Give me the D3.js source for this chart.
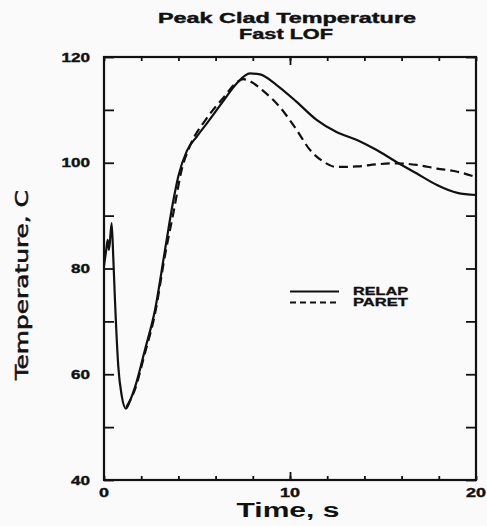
<!DOCTYPE html>
<html>
<head>
<meta charset="utf-8">
<script src="https://cdn.jsdelivr.net/npm/d3@7"></script>
<style>
  html, body { margin: 0; padding: 0; background: #fafafa; }
  svg { display: block; }
  text { font-family: "Liberation Sans", Arial, sans-serif; font-weight: bold; fill: #111; }
</style>
</head>
<body>
<div id="chart"></div>
<script>
// Datos (tiempo en s, temperatura en C)
const relapTime = [0, 0.12, 0.2, 0.27, 0.41, 0.5, 0.59, 0.77, 0.95, 1.18, 1.4, 1.67, 2.2, 2.74, 3.28, 3.73, 4.0, 4.45, 5.0, 5.52, 6.42, 7.13, 7.85, 8.39, 9.28, 10.36, 11.43, 12.5, 13.6, 14.66, 15.7, 16.8, 17.9, 19.0, 20];
const relapTemp = [80.5, 83.5, 85.4, 83.5, 88.6, 82, 74, 61.4, 56, 53.5, 55, 57.6, 64.6, 72.1, 83.5, 92.9, 97.5, 102.2, 105, 107.4, 111.7, 115, 116.9, 116.7, 114.7, 111.5, 108.1, 105.8, 104.3, 102.4, 100.2, 98, 95.8, 94.3, 93.9];

const paretTime = [1.2, 1.67, 2.2, 2.74, 3.28, 3.73, 4.2, 4.6, 5.52, 6.42, 7.13, 7.5, 7.9, 8.56, 9.46, 10.36, 11.08, 11.8, 12.5, 13.6, 14.66, 15.7, 16.8, 17.9, 19.0, 20];
const paretTemp = [53.8, 57.2, 64, 71.4, 82.5, 90.5, 99, 103, 108.4, 112.3, 115.2, 115.8, 115.3, 113.6, 110.5, 106.2, 102.4, 100.2, 99.2, 99.3, 99.7, 99.9, 99.6, 98.9, 98.3, 97.3];

const xTickLabels = [0, 10, 20];
const yTickLabels = [40, 60, 80, 100, 120];
const seriesNames = ['RELAP', 'PARET'];

const W = 487, H = 526;
const margin = { top: 57, right: 11, bottom: 46, left: 104 };
const width = W - margin.left - margin.right;
const height = H - margin.top - margin.bottom;

const svg = d3.select('#chart').append('svg')
    .attr('width', W)
    .attr('height', H);

const g = svg.append('g')
    .attr('transform', `translate(${margin.left},${margin.top})`);

const x = d3.scaleLinear().domain([0, 20]).range([0, width]);
const y = d3.scaleLinear().domain([40, 120]).range([height, 0]);

// Ticks interiores
const yMinor = d3.range(40, 121, 10);
const xMinor = d3.range(0, 21, 2);

g.append('g').call(d3.axisLeft(y).tickValues(yMinor).tickSize(-10).tickFormat(''))
    .call(s => s.select('.domain').remove());
g.append('g').attr('transform', `translate(${width},0)`)
    .call(d3.axisRight(y).tickValues(yMinor).tickSize(-10).tickFormat(''))
    .call(s => s.select('.domain').remove());
g.append('g').attr('transform', `translate(0,${height})`)
    .call(d3.axisBottom(x).tickValues(xMinor).tickSize(-4).tickFormat(''))
    .call(s => s.select('.domain').remove());
g.append('g')
    .call(d3.axisTop(x).tickValues(xMinor).tickSize(-4).tickFormat(''))
    .call(s => s.select('.domain').remove());
g.append('g').attr('transform', `translate(0,${height})`)
    .call(d3.axisBottom(x).tickValues([10]).tickSize(-8).tickFormat(''))
    .call(s => s.select('.domain').remove());
g.append('g')
    .call(d3.axisTop(x).tickValues([10]).tickSize(-8).tickFormat(''))
    .call(s => s.select('.domain').remove());
g.selectAll('.tick line').attr('stroke', '#111').attr('stroke-width', 1.8);

// Marco
g.append('rect')
    .attr('width', width)
    .attr('height', height)
    .attr('fill', 'none')
    .attr('stroke', '#111')
    .attr('stroke-width', 2.2);

// Etiquetas de ticks
g.selectAll('.ylab')
    .data(yTickLabels)
    .enter().append('text')
    .attr('x', -14)
    .attr('y', d => y(d))
    .attr('dy', '0.36em')
    .attr('text-anchor', 'end')
    .style('font-size', '13px')
    .style('stroke', '#111')
    .style('stroke-width', 0.4)
    .attr('textLength', d => String(d).length * 9.5)
    .attr('lengthAdjust', 'spacingAndGlyphs')
    .text(d => d);

g.selectAll('.xlab')
    .data(xTickLabels)
    .enter().append('text')
    .attr('x', d => x(d))
    .attr('y', height + 17)
    .attr('text-anchor', 'middle')
    .style('font-size', '13px')
    .style('stroke', '#111')
    .style('stroke-width', 0.4)
    .attr('textLength', d => String(d).length * 10)
    .attr('lengthAdjust', 'spacingAndGlyphs')
    .text(d => d);

// Curvas
const line = d3.line()
    .x(d => x(d[0]))
    .y(d => y(d[1]))
    .curve(d3.curveMonotoneX);

const relap = relapTime.map((t, i) => [t, relapTemp[i]]);
const paret = paretTime.map((t, i) => [t, paretTemp[i]]);

g.append('path')
    .datum(paret)
    .attr('d', line)
    .attr('fill', 'none')
    .attr('stroke', '#111')
    .attr('stroke-width', 2.2)
    .attr('stroke-dasharray', '9,5');

g.append('path')
    .datum(relap)
    .attr('d', line)
    .attr('fill', 'none')
    .attr('stroke', '#111')
    .attr('stroke-width', 2.2);

// Leyenda
const legend = g.append('g').attr('transform', `translate(${290 - margin.left},${291.5 - margin.top})`);
seriesNames.forEach((name, i) => {
    legend.append('line')
        .attr('x1', 0).attr('x2', 49)
        .attr('y1', i * 11).attr('y2', i * 11)
        .attr('stroke', '#111')
        .attr('stroke-width', 2)
        .attr('stroke-dasharray', i === 0 ? null : '6,4');
    legend.append('text')
        .attr('x', 63)
        .attr('y', i * 11)
        .attr('dy', '0.35em')
        .style('font-size', '10.5px')
        .style('stroke', '#111')
        .style('stroke-width', 0.3)
        .attr('textLength', 55)
        .attr('lengthAdjust', 'spacingAndGlyphs')
        .text(name);
});

// Títulos
svg.append('text')
    .attr('x', 287)
    .attr('y', 23)
    .attr('text-anchor', 'middle')
    .style('font-size', '14px')
    .style('stroke', '#111')
    .style('stroke-width', 0.4)
    .attr('textLength', 258)
    .attr('lengthAdjust', 'spacingAndGlyphs')
    .text('Peak Clad Temperature');

svg.append('text')
    .attr('x', 286)
    .attr('y', 39)
    .attr('text-anchor', 'middle')
    .style('font-size', '14px')
    .style('stroke', '#111')
    .style('stroke-width', 0.4)
    .attr('textLength', 94)
    .attr('lengthAdjust', 'spacingAndGlyphs')
    .text('Fast LOF');

svg.append('text')
    .attr('x', 288)
    .attr('y', 517)
    .attr('text-anchor', 'middle')
    .style('font-size', '20px')
    .attr('textLength', 103)
    .attr('lengthAdjust', 'spacingAndGlyphs')
    .text('Time, s');

svg.append('text')
    .attr('transform', 'translate(28,285) rotate(-90)')
    .attr('text-anchor', 'middle')
    .style('font-family', '"Liberation Sans Narrow", "DejaVu Sans Condensed", sans-serif')
    .style('font-size', '18px')
    .style('font-weight', 'normal')
    .style('stroke', '#111')
    .style('stroke-width', 0.5)
    .attr('textLength', 190)
    .attr('lengthAdjust', 'spacingAndGlyphs')
    .text('Temperature, C');
</script>
</body>
</html>
